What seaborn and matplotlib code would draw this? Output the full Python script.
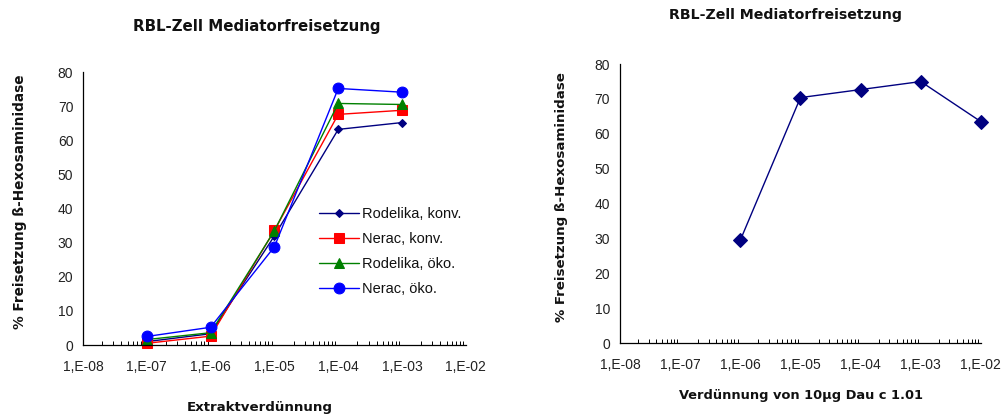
import numpy as np
import pandas as pd
import matplotlib
matplotlib.use("Agg")
import matplotlib.pyplot as plt
import matplotlib.ticker as mticker
import seaborn as sns

# ---- data ----
dilution_left = [1e-7, 1e-6, 1e-5, 1e-4, 1e-3]
series_names = ["Rodelika, konv.", "Nerac, konv.", "Rodelika, öko.", "Nerac, öko."]
rodelika_konv = [1.0, 3.3, 32.0, 63.2, 65.2]
nerac_konv = [0.5, 2.6, 33.6, 67.6, 68.8]
rodelika_oeko = [1.6, 3.6, 33.5, 70.8, 70.5]
nerac_oeko = [2.5, 5.2, 28.8, 75.2, 74.1]

dilution_right = [1e-6, 1e-5, 1e-4, 1e-3, 1e-2]
dau_values = [29.5, 70.4, 72.7, 75.0, 63.5]

title_text = "RBL-Zell Mediatorfreisetzung"
ylabel_text = "% Freisetzung ß-Hexosaminidase"
xlabel_left = "Extraktverdünnung"
xlabel_right = "Verdünnung von 10µg Dau c 1.01"

colors = {"Rodelika, konv.": "#000080", "Nerac, konv.": "#FF0000",
          "Rodelika, öko.": "#008000", "Nerac, öko.": "#0000FF"}
markers = {"Rodelika, konv.": "D", "Nerac, konv.": "s",
           "Rodelika, öko.": "^", "Nerac, öko.": "o"}
msizes = {"Rodelika, konv.": 4.2, "Nerac, konv.": 7,
          "Rodelika, öko.": 7.5, "Nerac, öko.": 7.8}

df_left = pd.DataFrame({
    "x": dilution_left * 4,
    "y": rodelika_konv + nerac_konv + rodelika_oeko + nerac_oeko,
    "series": sum([[n] * len(dilution_left) for n in series_names], []),
})
df_right = pd.DataFrame({"x": dilution_right, "y": dau_values})

sns.set_theme(style="white")
plt.rcParams["font.family"] = ["Liberation Sans", "DejaVu Sans"]

fig = plt.figure(figsize=(10.04, 4.19), dpi=100)
axL = fig.add_axes([0.0827, 0.1766, 0.3813, 0.6514])
axR = fig.add_axes([0.6175, 0.181, 0.3595, 0.666])

fmt = mticker.FuncFormatter(lambda v, p: "1,E-%02d" % int(round(-np.log10(v))))

for name in series_names:
    sub = df_left[df_left.series == name]
    sns.lineplot(data=sub, x="x", y="y", ax=axL, color=colors[name],
                 marker=markers[name], markersize=msizes[name],
                 markeredgecolor=colors[name], linewidth=1.0, label=name,
                 clip_on=False)

sns.lineplot(data=df_right, x="x", y="y", ax=axR, color="#000080", marker="D",
             markersize=6.8, markeredgecolor="#000080", linewidth=1.0,
             clip_on=False)

for ax in (axL, axR):
    ax.set_xscale("log")
    ax.set_xlim(1e-8, 1e-2)
    ax.set_ylim(0, 80)
    ax.set_yticks(range(0, 81, 10))
    ax.xaxis.set_major_locator(mticker.LogLocator(base=10, numticks=10))
    ax.xaxis.set_minor_locator(mticker.LogLocator(base=10, subs=np.arange(2, 10), numticks=100))
    ax.xaxis.set_major_formatter(fmt)
    ax.xaxis.set_minor_formatter(mticker.NullFormatter())
    for s in ["top", "right"]:
        ax.spines[s].set_visible(False)
    for s in ["left", "bottom"]:
        ax.spines[s].set_color("black")
        ax.spines[s].set_linewidth(0.9)
    ax.tick_params(axis="both", which="major", direction="out", length=4,
                   width=0.8, color="black", labelsize=10, labelcolor="#222222", pad=3)
    ax.tick_params(axis="x", which="minor", direction="in", length=3,
                   width=0.7, color="black", bottom=True)
    ax.tick_params(axis="x", which="major", pad=7)
    ax.set_ylabel("")
    ax.set_xlabel("")
    ax.grid(False)

kw = dict(fontweight="bold", color="#111111", ha="center", va="center",
          family=["DejaVu Sans"])
fig.text(20 / 1004, 1 - 202 / 419, ylabel_text, rotation=90, fontsize=9.85, **kw)
fig.text(562 / 1004, 1 - 197 / 419, ylabel_text, rotation=90, fontsize=9.6, **kw)
fig.text(260 / 1004, 1 - 407 / 419, xlabel_left, fontsize=9.6, **kw)
fig.text(801 / 1004, 1 - 395 / 419, xlabel_right, fontsize=9.4, **kw)
fig.text(257 / 1004, 1 - 27 / 419, title_text, fontsize=10.8, **kw)
fig.text(786 / 1004, 1 - 15 / 419, title_text, fontsize=10.2, **kw)

leg = axL.legend(loc="upper left", bbox_to_anchor=(0.602, 0.527), frameon=False,
                 fontsize=10.5, handlelength=2.7, labelspacing=0.76,
                 handletextpad=0.2, borderaxespad=0)
for t in leg.get_texts():
    t.set_color("#111111")

fig.savefig("out.png", dpi=100)
